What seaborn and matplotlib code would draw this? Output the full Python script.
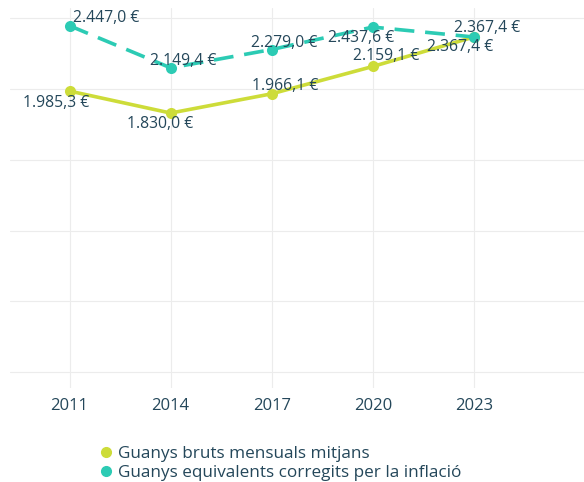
import matplotlib.pyplot as plt
import pandas as pd
import seaborn as sns
from matplotlib.lines import Line2D

# Data
years = ["2011", "2014", "2017", "2020", "2023"]
bruts = [1985.3, 1830.0, 1966.1, 2159.1, 2367.4]
corregits = [2447.0, 2149.4, 2279.0, 2437.6, 2367.4]
series_names = ["Guanys bruts mensuals mitjans",
                "Guanys equivalents corregits per la inflació"]

green = "#cddc39"
teal = "#2ccbb4"
text_col = "#24475a"

df = pd.DataFrame({
    "year": years * 2,
    "value": bruts + corregits,
    "serie": [series_names[0]] * 5 + [series_names[1]] * 5,
})


def fmt(v):
    s = f"{v:,.1f}".replace(",", "X").replace(".", ",").replace("X", ".")
    return s + " €"


sns.set_style("whitegrid")
plt.rcParams["font.family"] = ["Open Sans", "DejaVu Sans"]

fig, ax = plt.subplots(figsize=(5.84, 4.82), dpi=100)
fig.subplots_adjust(left=0.017, right=1.0, top=0.983, bottom=0.195)

sns.lineplot(data=df, x="year", y="value", hue="serie", style="serie",
             palette=[green, teal], dashes=[(1, 0), (5.5, 3)],
             markers=["o", "o"], markersize=8, markeredgewidth=0,
             linewidth=2.6, ax=ax, legend=False, sort=False)

# Point labels (offsets in pixels)
off_bruts = [(-13, -12), (-11, -11), (13, 8), (13, 10), (-14, -10)]
off_corr = [(37, 8), (13, 7), (12, 7), (-12, -11), (13, 9)]
for i, y in enumerate(years):
    ax.annotate(fmt(bruts[i]), (i, bruts[i]), xytext=off_bruts[i],
                textcoords="offset pixels", ha="center", va="center",
                fontsize=11.3, color=text_col)
    ax.annotate(fmt(corregits[i]), (i, corregits[i]), xytext=off_corr[i],
                textcoords="offset pixels", ha="center", va="center",
                fontsize=11.3, color=text_col)

ax.set_ylim(-113, 2571)
ax.set_xlim(-0.59, 5.09)
ax.set_yticks([0, 500, 1000, 1500, 2000, 2500])
ax.set_yticklabels([])
ax.tick_params(axis="y", length=0)
ax.tick_params(axis="x", length=0, labelsize=12, labelcolor=text_col, pad=7)
ax.set_xlabel("")
ax.set_ylabel("")
ax.grid(color="#ececec", linewidth=0.8)
for sp in ax.spines.values():
    sp.set_visible(False)

handles = [Line2D([], [], marker="o", linestyle="", color=c, markersize=7)
           for c in [green, teal]]
fig.legend(handles, series_names, loc="lower left", bbox_to_anchor=(0.14, -0.03),
           frameon=False, fontsize=12.3, labelcolor=text_col, handletextpad=0.2,
           labelspacing=0.2, handlelength=1.0)

fig.savefig("out.png", dpi=100)
